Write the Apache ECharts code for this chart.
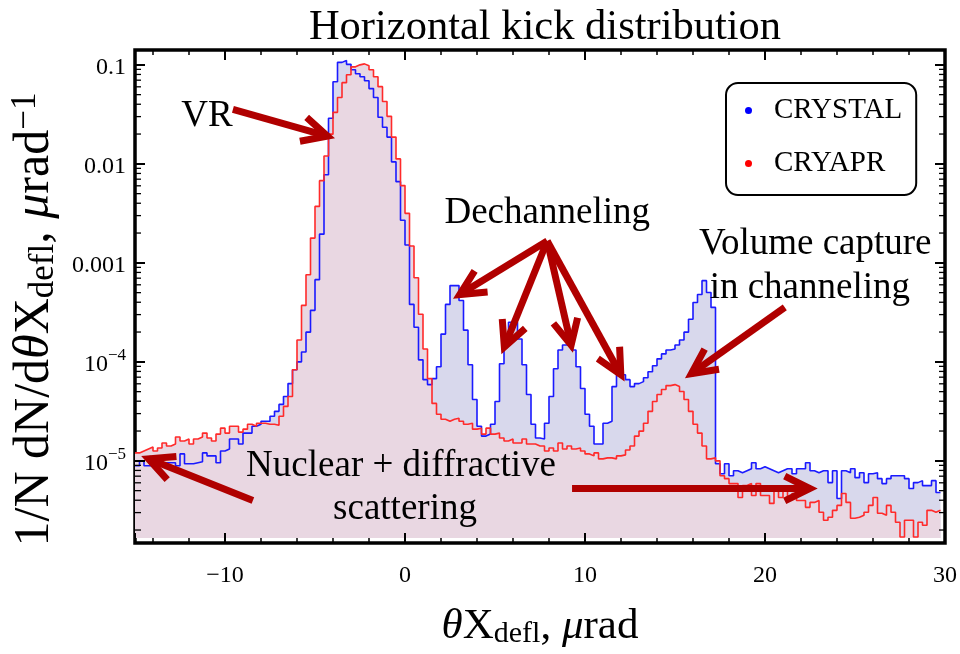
<!DOCTYPE html>
<html><head><meta charset="utf-8">
<script src="https://cdn.jsdelivr.net/npm/echarts@6/dist/echarts.min.js"></script>
<style>html,body{margin:0;padding:0;background:#fff}#c{width:960px;height:654px}</style>
</head><body><div id="c"></div>
<script>
// ---- data ----
const binStart = -15, binWidth = 0.25;          // histogram bins (µrad)
const xMin = -15, xMax = 30;
const yMinLog10 = -5.83, yMaxLog10 = -0.85;      // plot range (log10 of 1/N dN/dθ)
const fillBaseLog10 = -5.78;
// CRYSTAL, log10 of bin contents
const crystalLog10 = [-5.05,-5.0,-5.05,-5.05,-5.03,-5.03,-5.02,-5.02,-5.02,-5.05,
 -4.93,-5.03,-5.03,-5.02,-5.01,-4.92,-4.95,-4.95,-5.02,-4.9,
 -4.88,-4.78,-4.78,-4.83,-4.72,-4.72,-4.65,-4.63,-4.6,-4.6,
 -4.55,-4.5,-4.43,-4.35,-4.22,-4.08,
 -4.0,-3.9,-3.7,-3.48,-3.17,-2.71,-2.11,-1.54,-1.17,-0.975,
 -0.955,-0.995,-1.05,-1.09,-1.12,-1.16,-1.24,-1.33,-1.53,-1.63,
 -1.73,-1.98,-2.18,-2.57,-2.82,-3.42,-3.65,-3.98,-4.18,-4.23,
 -4.17,-4.05,-3.72,-3.42,-3.23,-3.23,
 -3.38,-3.68,-4.03,-4.38,-4.65,-4.75,-4.73,-4.63,-4.4,-4.02,
 -3.78,-3.6,-3.6,-3.77,-4.03,-4.33,-4.63,-4.77,-4.78,-4.62,
 -4.35,-4.07,-3.88,-3.83,-3.83,-3.88,-4.05,-4.27,-4.53,-4.65,
 -4.83,-4.83,-4.62,-4.6,-4.25,-4.13,
 -4.13,-4.18,-4.25,-4.22,-4.2,-4.16,-4.1,-4.04,-3.97,-3.92,
 -3.88,-3.87,-3.83,-3.78,-3.7,-3.57,-3.4,-3.32,-3.18,-3.3,-3.45,
 -5.03,-5.13,-5.03,-5.15,-5.1,-5.12,-5.1,-5.08,-5.02,-5.08,-5.06,-5.08,-5.1,-5.12,-5.1,
 -5.08,-5.08,-5.13,-5.08,-5.08,-5.02,-5.1,-5.12,-5.1,-5.1,
 -5.22,-5.1,-5.38,-5.1,-5.12,-5.08,-5.17,-5.12,-5.22,-5.13,
 -5.12,-5.18,-5.23,-5.18,-5.15,-5.15,-5.15,-5.18,-5.28,-5.22,
 -5.2,-5.25,-5.25,-5.2,-5.32];
// CRYAPR, log10 of bin contents
const cryaprLog10 = [-4.92,-4.9,-4.88,-4.86,-4.9,-4.87,-4.82,-4.85,-4.83,-4.76,
 -4.8,-4.78,-4.83,-4.78,-4.76,-4.72,-4.77,-4.8,-4.73,-4.67,
 -4.72,-4.65,-4.65,-4.71,-4.68,-4.63,-4.65,-4.62,-4.62,-4.63,
 -4.63,-4.64,-4.55,-4.45,-4.35,-4.08,
 -3.78,-3.43,-3.12,-2.75,-2.43,-2.17,-1.92,-1.7,-1.48,-1.33,
 -1.18,-1.1,-1.02,-1.0,-0.99,-1.01,-1.05,-1.12,-1.22,-1.37,
 -1.52,-1.73,-1.95,-2.22,-2.5,-2.83,-3.15,-3.52,-3.87,-4.17,
 -4.42,-4.53,-4.58,-4.6,-4.58,-4.57,
 -4.6,-4.63,-4.62,-4.68,-4.67,-4.73,-4.67,-4.73,-4.72,-4.77,
 -4.8,-4.78,-4.82,-4.82,-4.78,-4.83,-4.83,-4.85,-4.85,-4.9,
 -4.87,-4.9,-4.82,-4.88,-4.85,-4.88,-4.87,-4.9,-4.93,-4.95,
 -4.92,-4.98,-4.97,-4.97,-4.98,-4.95,
 -4.94,-4.89,-4.85,-4.75,-4.7,-4.62,-4.5,-4.4,-4.33,-4.28,
 -4.24,-4.23,-4.25,-4.3,-4.38,-4.5,-4.63,-4.72,-4.85,-4.98,-4.97,
 -5.0,-5.15,-5.18,-5.23,-5.23,-5.37,-5.25,-5.23,-5.35,-5.23,-5.35,-5.35,-5.43,-5.27,-5.37,
 -5.27,-5.37,-5.33,-5.4,-5.4,-5.47,-5.42,-5.4,-5.52,-5.6,
 -5.57,-5.5,-5.45,-5.33,-5.42,-5.58,-5.57,-5.55,-5.52,-5.45,
 -5.37,-5.53,-5.55,-5.45,-5.52,-5.62,-5.77,-5.6,-5.6,-5.77,
 -5.62,-5.65,-5.5,-5.52,-5.5];
const seriesNames = ['CRYSTAL', 'CRYAPR'];
const yMinorMultipliers = [2, 3, 4, 5, 6, 7, 8, 9];
// annotations: [x µrad, log10 y]
const annotationTexts = [
  {text: 'VR', at: [-11.0, -1.52]},
  {text: 'Dechanneling', at: [7.9, -2.497]},
  {text: 'Volume capture', at: [22.79, -2.81]},
  {text: 'in channeling', at: [22.49, -3.26]},
  {text: 'Nuclear + diffractive', at: [-0.22, -5.06]},
  {text: 'scattering', at: [0.0, -5.49]}
];
const annotationArrows = [
  {from: [-9.56, -1.45], to: [-4.31, -1.72]},
  {from: [7.9, -2.78], to: [3.04, -3.32]},
  {from: [7.9, -2.78], to: [5.52, -3.85]},
  {from: [7.9, -2.78], to: [9.23, -3.83]},
  {from: [7.9, -2.78], to: [11.99, -4.13]},
  {from: [21.1, -3.45], to: [15.91, -4.12]},
  {from: [-8.45, -5.4], to: [-14.25, -4.98]},
  {from: [9.28, -5.28], to: [22.49, -5.28]}
];

// ---- build ----
const FONT = '"Liberation Serif", "Times New Roman", serif';
const pow10 = e => Math.pow(10, e);
function histPoints(logs) {
  const pts = logs.map((l, i) => [binStart + i * binWidth, pow10(l)]);
  pts.push([binStart + logs.length * binWidth, pow10(logs[logs.length - 1])]);
  return pts;
}
const crystalPts = histPoints(crystalLog10);
const cryaprPts = histPoints(cryaprLog10);
const yMinorTicks = [];
for (let e = -6; e <= -1; e++) for (const m of yMinorMultipliers) {
  const v = m * pow10(e);
  if (v > pow10(yMinLog10) && v < pow10(yMaxLog10)) yMinorTicks.push([xMin, v]);
}

function yLabel(v) {
  const l = Math.log10(v), e = Math.round(l);
  if (Math.abs(l - e) > 1e-6) return '';
  if (e === -1) return '{b|0.1}';
  if (e === -2) return '{b|0.01}';
  if (e === -3) return '{b|0.001}';
  return '{b|10}{s|\u2212' + (-e) + '}';
}
const yRich = {
  b: {fontSize: 24, fontFamily: FONT, color: '#000', lineHeight: 30, verticalAlign: 'bottom'},
  s: {fontSize: 17, fontFamily: FONT, color: '#000', lineHeight: 17, verticalAlign: 'top'}
};
const xAxisCommon = {
  type: 'value', min: xMin, max: xMax, splitNumber: 5, z: 10,
  axisLine: {show: false, onZero: false}, splitLine: {show: false},
  axisTick: {show: true, inside: true, length: 10, lineStyle: {color: '#000', width: 2}},
  minorTick: {show: true, splitNumber: 5, length: 5, lineStyle: {color: '#000', width: 1.5}},
  minorSplitLine: {show: false}
};
const yAxisCommon = {
  type: 'log', logBase: 10, min: pow10(yMinLog10), max: pow10(yMaxLog10), z: 10,
  axisLine: {show: false, onZero: false}, splitLine: {show: false},
  axisTick: {show: true, inside: true, length: 10, lineStyle: {color: '#000', width: 2}},
  minorTick: {show: false}
};
const nameRich = {
  i: {fontFamily: FONT, fontSize: 50, fontStyle: 'italic', color: '#000'},
  sub: {fontFamily: FONT, fontSize: 35, color: '#000', verticalAlign: 'bottom', padding: [18, 0, 0, 0]},
  sup: {fontFamily: FONT, fontSize: 35, color: '#000', verticalAlign: 'top', padding: [0, 0, 18, 0]}
};

const chart = echarts.init(document.getElementById('c'), null, {renderer: 'canvas'});
const option = {
  backgroundColor: '#fff',
  animation: false,
  title: {
    text: 'Horizontal kick distribution', left: 540, top: 1, textAlign: 'center',
    textStyle: {fontFamily: FONT, fontSize: 42.5, fontWeight: 'normal', color: '#000'}
  },
  legend: {
    data: seriesNames, orient: 'vertical', left: 726, top: 83,
    icon: 'circle', itemWidth: 7, itemHeight: 7, itemGap: 24,
    padding: [13, 14, 17, 19],
    borderColor: '#000', borderWidth: 2, borderRadius: 12, backgroundColor: '#fff',
    textStyle: {fontFamily: FONT, fontSize: 29, color: '#000', padding: [0, 0, 0, 17]}
  },
  grid: {left: 134, right: 12, top: 50, bottom: 106, show: true,
         borderColor: '#000', borderWidth: 3.5, backgroundColor: 'transparent'},
  xAxis: [
    Object.assign({}, xAxisCommon, {
      position: 'bottom',
      axisLabel: {show: true, margin: 21, fontFamily: FONT, fontSize: 24, color: '#000',
        showMinLabel: false,
        formatter: v => (v < 0 ? '\u2212' + Math.abs(v) : String(v))},
      name: '{i|\u03b8}X{sub|defl}, {i|\u03bc}rad', nameLocation: 'middle', nameGap: 61,
      nameTextStyle: {fontFamily: FONT, fontSize: 43, color: '#000', rich: {
        i: {fontFamily: FONT, fontSize: 43, fontStyle: 'italic', color: '#000'},
        sub: {fontFamily: FONT, fontSize: 30, color: '#000', verticalAlign: 'bottom', padding: [15, 0, 0, 0]}}}
    }),
    Object.assign({}, xAxisCommon, {position: 'top', axisLabel: {show: false}})
  ],
  yAxis: [
    Object.assign({}, yAxisCommon, {
      position: 'left',
      axisLabel: {show: true, margin: 9, formatter: yLabel, rich: yRich},
      name: '1/N dN/d{i|\u03b8}X{sub|defl}, {i|\u03bc}rad{sup|\u22121}', nameLocation: 'middle',
      nameRotate: 90, nameGap: 74,
      nameTextStyle: {fontFamily: FONT, fontSize: 50, color: '#000', rich: nameRich, padding: [0, 46, 0, 0]}
    }),
    Object.assign({}, yAxisCommon, {position: 'right', axisLabel: {show: false}})
  ],
  series: [
    {name: 'CRYSTAL fill', type: 'line', step: 'end', data: crystalPts, showSymbol: false, silent: true,
     lineStyle: {width: 0, opacity: 0}, areaStyle: {color: '#d8d8ec', opacity: 1, origin: pow10(fillBaseLog10)}, z: 1},
    {name: 'CRYAPR fill', type: 'line', step: 'end', data: cryaprPts, showSymbol: false, silent: true,
     lineStyle: {width: 0, opacity: 0}, areaStyle: {color: '#e9d7e2', opacity: 1, origin: pow10(fillBaseLog10)}, z: 2},
    {name: 'CRYSTAL', type: 'line', step: 'end', data: crystalPts, showSymbol: false,
     itemStyle: {color: '#0000ff'}, lineStyle: {color: '#1a1aff', width: 1.6}, z: 3},
    {name: 'CRYAPR', type: 'line', step: 'end', data: cryaprPts, showSymbol: false,
     itemStyle: {color: '#ff0000'}, lineStyle: {color: '#ff2a2a', width: 1.6}, z: 4},
    {name: 'yMinorTicks', type: 'custom', data: yMinorTicks, silent: true, z: 5, clip: false,
     renderItem: (params, api) => {
       const y = api.coord([api.value(0), api.value(1)])[1];
       const cs = params.coordSys;
       const st = {stroke: '#000', lineWidth: 1.3};
       return {type: 'group', children: [
         {type: 'line', shape: {x1: cs.x, y1: y, x2: cs.x + 6, y2: y}, style: st},
         {type: 'line', shape: {x1: cs.x + cs.width, y1: y, x2: cs.x + cs.width - 6, y2: y}, style: st}
       ]};
     }}
  ]
};
chart.setOption(option);

// annotations placed through the chart's own scales
const ARROW = '#b00000';
function px(p) { return chart.convertToPixel({xAxisIndex: 0, yAxisIndex: 0}, [p[0], pow10(p[1])]); }
const graphics = [];
annotationTexts.forEach(t => {
  const p = px(t.at);
  graphics.push({type: 'text', x: p[0], y: p[1], z: 20,
    style: {text: t.text, fill: '#000', fontFamily: FONT, fontSize: 37, align: 'center', verticalAlign: 'middle'}});
});
annotationArrows.forEach(a => {
  const p0 = px(a.from), p1 = px(a.to);
  const ang = Math.atan2(p1[1] - p0[1], p1[0] - p0[0]);
  const L = 28, w = 0.46;
  const w1 = [p1[0] - L * Math.cos(ang - w), p1[1] - L * Math.sin(ang - w)];
  const w2 = [p1[0] - L * Math.cos(ang + w), p1[1] - L * Math.sin(ang + w)];
  graphics.push({type: 'polyline', z: 21, shape: {points: [p0, p1]},
    style: {stroke: ARROW, lineWidth: 7, lineCap: 'butt'}});
  graphics.push({type: 'polyline', z: 21, shape: {points: [w1, p1, w2]},
    style: {stroke: ARROW, lineWidth: 7, lineJoin: 'miter', lineCap: 'butt', fill: null}});
});
chart.setOption({graphic: graphics});
</script>
</body></html>
